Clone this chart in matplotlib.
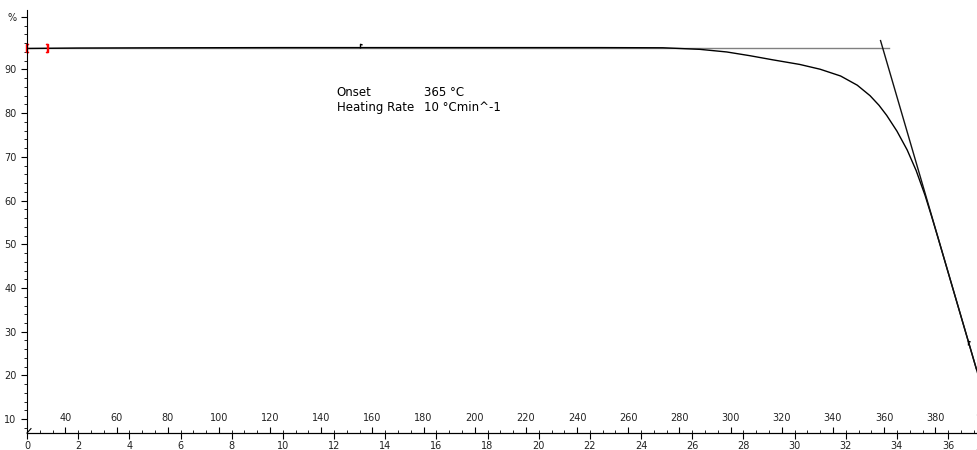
import numpy as np
import matplotlib.pyplot as plt

# TGA curve (time in min, mass in %)
time_min = [0, 2, 5, 10, 15, 20, 22.4, 24.85, 26.3, 27.35, 28.25, 29.15, 30.2, 31.0,
            31.8, 32.45, 32.95, 33.3, 33.6, 34.0, 34.4, 34.75, 35.1, 35.35, 35.6,
            36.05, 36.65, 37.1, 37.4]
mass_pct = [94.8, 94.9, 94.95, 95.0, 95.0, 95.0, 95.0, 94.96, 94.6, 94.0, 93.15, 92.2,
            91.15, 90.05, 88.5, 86.4, 84.0, 81.8, 79.5, 75.9, 71.6, 66.9, 61.2, 56.5,
            51.6, 42.6, 30.6, 21.6, 15.6]

# onset construction lines
baseline_t = [0, 33.7]
baseline_pct = [95.0, 95.0]
tangent_t = [33.36, 37.1]
tangent_pct = [96.6, 21.6]

# evaluation limits (red) and small flags on the curve
cursor_t = [0.0, 0.77]
cursor_pct = [94.8, 94.8]
flag_t = [13.0, 36.77]
flag_pct = [95.0, 27.0]

onset_temp = "365 °C"
heating_rate = "10 °Cmin^-1"

fig = plt.figure(figsize=(9.77, 4.5), dpi=100)
ax = fig.add_axes([27 / 977, 17 / 450, 950 / 977, 423 / 450])
ax.set_xlim(0, 37.13)
ax.set_ylim(6.84, 103.6)
ax.spines["top"].set_visible(False)
ax.spines["right"].set_visible(False)

ax.plot(baseline_t, baseline_pct, color="#808080", lw=1.0)
ax.plot(time_min, mass_pct, color="black", lw=1.0)
ax.plot(tangent_t, tangent_pct, color="#111111", lw=1.0)

ax.plot(cursor_t[0], cursor_pct[0], marker=r"$[$", color="red", ms=6, ls="none", clip_on=False)
ax.plot(cursor_t[1], cursor_pct[1], marker=r"$]$", color="red", ms=6, ls="none", clip_on=False)
flag = [(0, 0), (0, 1), (0.5, 0.85)]
ax.plot(flag_t, flag_pct, marker=flag, ms=6, mfc="none", mec="black", mew=1, ls="none")

ax.text(12.1, 84.7, "Onset", fontsize=8.5, va="center")
ax.text(15.5, 84.7, onset_temp, fontsize=8.5, va="center")
ax.text(12.1, 81.4, "Heating Rate", fontsize=8.5, va="center")
ax.text(15.5, 81.4, heating_rate, fontsize=8.5, va="center")

# y axis
ax.set_yticks(list(range(10, 100, 10)) + [102],
              labels=[str(v) for v in range(10, 100, 10)] + ["%"])
ax.set_yticks(np.arange(8, 104, 2), minor=True)
ax.tick_params(axis="y", which="major", length=4, labelsize=7, labelcolor="#222222")
ax.tick_params(axis="y", which="minor", length=2.5)

# time axis (below)
ax.set_xticks(np.arange(0, 37, 2))
ax.tick_params(axis="x", which="major", direction="out", length=4, labelsize=7,
               labelcolor="#222222", pad=2)
ax.text(37.05, -0.045, "min", transform=ax.get_xaxis_transform(), fontsize=7,
        color="#222222", va="center", clip_on=False)

# temperature axis (ticks and labels above the same line)
sec = ax.secondary_xaxis("bottom", functions=(lambda t: 25 + 10 * t, lambda T: (T - 25) / 10))
sec.set_xticks(np.arange(40, 400, 20))
sec.set_xticks(np.arange(30, 400, 5), minor=True)
sec.tick_params(which="major", direction="in", length=4, pad=-14.5, labelsize=7,
                labelcolor="#222222")
sec.tick_params(which="minor", direction="in", length=2.5)
ax.text(37.05, 0.036, "°C", transform=ax.get_xaxis_transform(), fontsize=7,
        color="#222222", va="center", clip_on=False)

# axis break mark at the origin
ax.plot([0, 0.0042], [0, 0.0104], color="black", lw=0.8, transform=ax.transAxes, clip_on=False)

fig.savefig("out.png", dpi=100)
